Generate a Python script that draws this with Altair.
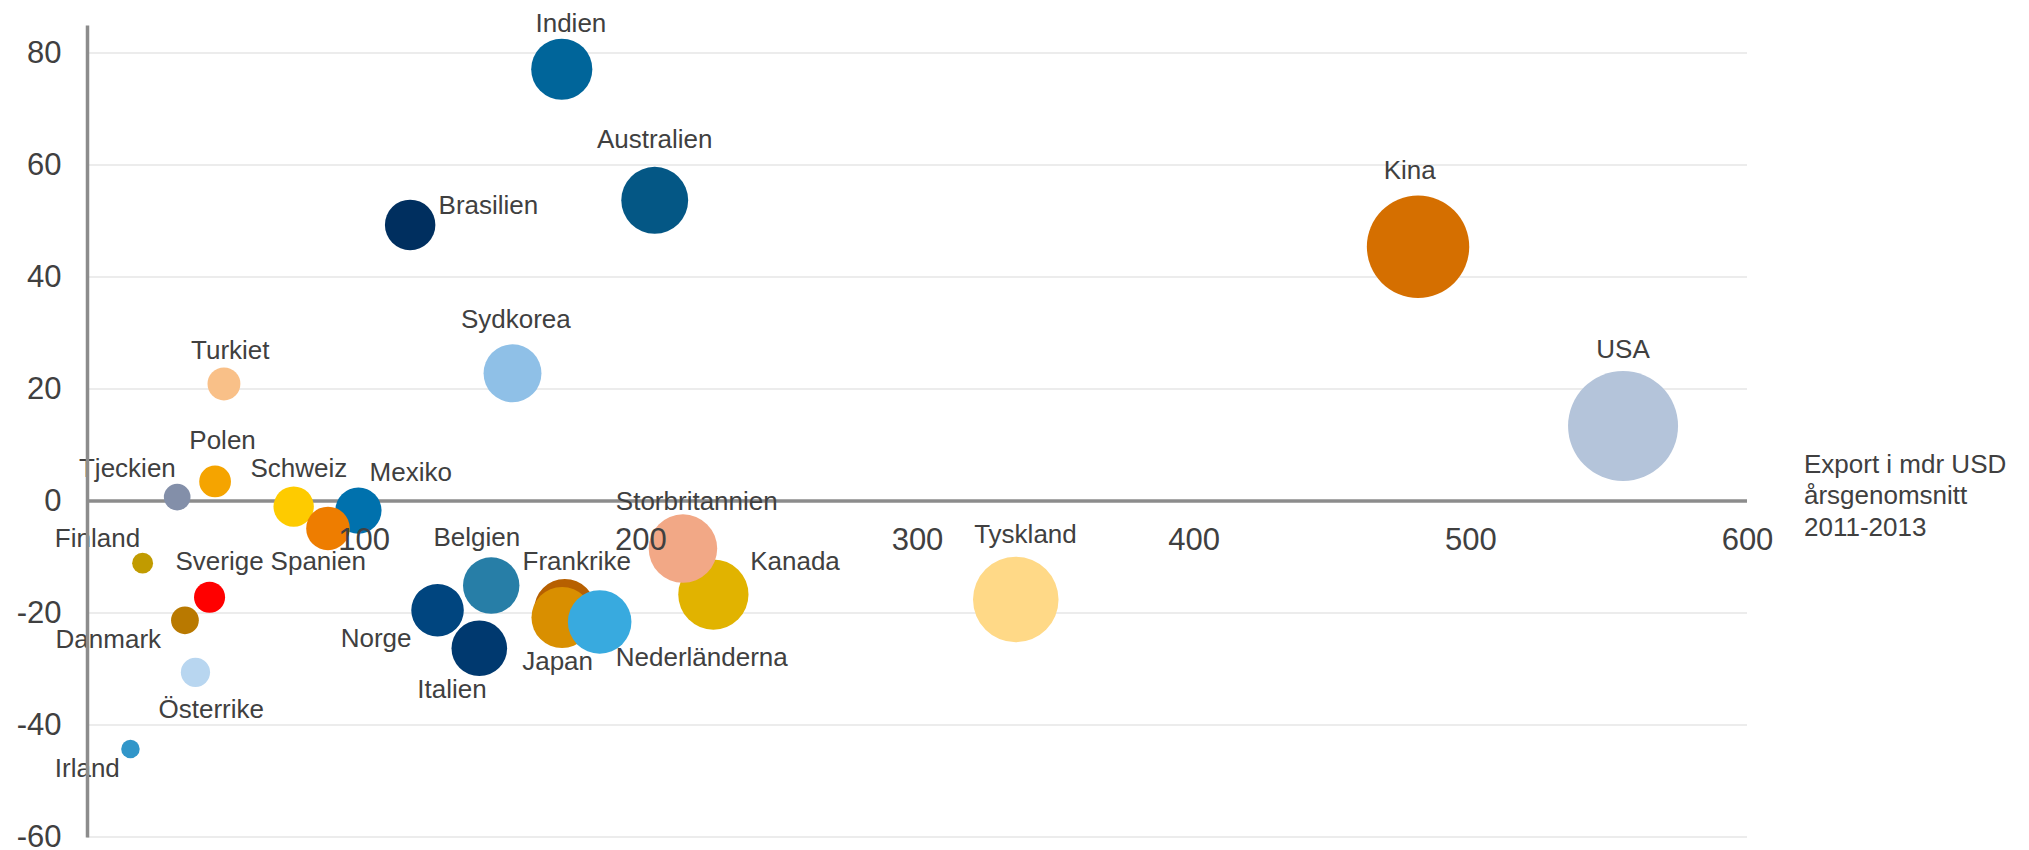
import altair as alt
import pandas as pd

# ---- data -------------------------------------------------------------
lander = ["Indien", "Australien", "Brasilien", "Kina", "USA", "Sydkorea",
          "Turkiet", "Polen", "Tjeckien", "Mexiko", "Schweiz", "Spanien",
          "Finland", "Sverige", "Danmark", "Österrike", "Irland", "Norge",
          "Belgien", "Italien", "Frankrike", "Japan", "Nederländerna",
          "Kanada", "Storbritannien", "Tyskland"]
# export, mdr USD (x) -- bubble area is the same quantity
export_mdr = [171.6, 205.2, 116.8, 481.1, 555.2, 153.8,
              49.5, 46.3, 32.6, 98.1, 74.7, 87.1,
              20.1, 44.3, 35.4, 39.2, 15.7, 126.7,
              146.1, 141.8, 172.7, 171.7, 185.3,
              226.4, 215.4, 335.7]
# change (y)
forandring = [77.1, 53.7, 49.3, 45.4, 13.4, 22.8,
              20.9, 3.5, 0.7, -1.7, -1.0, -4.9,
              -11.1, -17.2, -21.3, -30.6, -44.3, -19.5,
              -15.1, -26.3, -19.4, -20.8, -21.6,
              -16.7, -8.5, -17.6]
# label anchor points in data units
etikett_x = [174.9, 205.2, 145.1, 478.1, 555.2, 155.0,
             51.8, 49.0, 14.6, 117.0, 76.6, 83.6,
             3.8, 47.9, 7.7, 44.9, 0.1, 104.5,
             140.9, 131.9, 177.0, 170.1, 222.2,
             255.9, 220.4, 339.2]
etikett_y = [83.7, 63.1, 51.2, 57.5, 25.6, 30.9,
             25.3, 9.25, 4.2, 3.6, 4.2, -12.3,
             -8.15, -12.3, -26.2, -38.7, -49.3, -26.1,
             -8.0, -35.2, -12.4, -30.2, -29.5,
             -12.4, -1.6, -7.5]

x_ticks = [100, 200, 300, 400, 500, 600]
y_ticks = [-60, -40, -20, 0, 20, 40, 60, 80]
x_domain = [0, 600]
y_domain = [-60, 85]
axel_titel = ["Export i mdr USD", "årsgenomsnitt", "2011-2013"]
titel_x = [620.6]
titel_y = [5.07]

# ---- styles -----------------------------------------------------------
palett = ["#00659a", "#045785", "#002f5f", "#d56f00", "#b4c4da", "#8fc0e7",
          "#f9c088", "#f5a400", "#838fa9", "#0071ad", "#fecb00", "#ee7d00",
          "#c19b00", "#ff0000", "#b97900", "#b8d6f0", "#3196c9", "#00457f",
          "#277ea7", "#00396f", "#b76000", "#d98f00", "#38aadf",
          "#e1b300", "#f2a886", "#ffd987"]
FONT = "Liberation Sans"
TXT = "#404040"
AXIS = "#8c8c8c"
W, H = 1660, 812

df = pd.DataFrame({"land": lander, "export": export_mdr, "forandring": forandring,
                   "lx": etikett_x, "ly": etikett_y})

xs = alt.Scale(domain=x_domain, nice=False, zero=False)
ys = alt.Scale(domain=y_domain, nice=False, zero=False)

x_offset = -H * (0 - y_domain[0]) / (y_domain[1] - y_domain[0])

x_axis = alt.Axis(values=x_ticks, title=None, grid=False, domain=False,
                  ticks=False, labelFontSize=31, labelColor=TXT,
                  labelFont=FONT, labelPadding=24, labelFlush=False,
                  offset=x_offset, zindex=1)
y_axis = alt.Axis(values=y_ticks, title=None, grid=False,
                  domain=True, domainColor=AXIS, domainWidth=3.5,
                  ticks=False, labelFontSize=31, labelColor=TXT,
                  labelFont=FONT, labelPadding=26, labelFlush=False,
                  labelExpr="datum.value + ''", zindex=1)

# horizontal gridlines (behind everything)
grid = alt.Chart(pd.DataFrame({"g": [v for v in y_ticks if v != 0],
                               "x0": x_domain[0], "x1": x_domain[1]})).mark_rule(
    color="#ececec", strokeWidth=2
).encode(
    x=alt.X("x0:Q", scale=xs, axis=x_axis),
    x2="x1:Q",
    y=alt.Y("g:Q", scale=ys, axis=y_axis),
)

# x axis line at y = 0 (behind the bubbles)
axis_line = alt.Chart(pd.DataFrame({"x0": [x_domain[0]], "x1": [x_domain[1]], "y0": [0]})).mark_rule(
    color=AXIS, strokeWidth=3.5
).encode(
    x=alt.X("x0:Q", scale=xs, axis=x_axis),
    x2="x1:Q",
    y=alt.Y("y0:Q", scale=ys, axis=y_axis),
)

bubbles = alt.Chart(df).mark_circle(opacity=1, strokeWidth=0).encode(
    x=alt.X("export:Q", scale=xs, axis=x_axis),
    y=alt.Y("forandring:Q", scale=ys, axis=y_axis),
    size=alt.Size("export:Q", scale=alt.Scale(domain=[0, 600], range=[0, 13076]),
                  legend=None),
    color=alt.Color("land:N", scale=alt.Scale(domain=lander, range=palett),
                    legend=None),
    order=alt.Order("idx:Q"),
).transform_window(idx="row_number()")

labels = alt.Chart(df).mark_text(
    align="center", baseline="alphabetic", fontSize=26, font=FONT, color=TXT
).encode(
    x=alt.X("lx:Q", scale=xs, axis=x_axis),
    y=alt.Y("ly:Q", scale=ys, axis=y_axis),
    text="land:N",
)

title = alt.Chart(pd.DataFrame({"tx": titel_x, "ty": titel_y})).mark_text(
    align="left", baseline="alphabetic", fontSize=26, font=FONT, color=TXT,
    lineHeight=31.7
).encode(
    x=alt.X("tx:Q", scale=xs, axis=x_axis),
    y=alt.Y("ty:Q", scale=ys, axis=y_axis),
    text=alt.value(axel_titel),
)

chart = alt.layer(grid, axis_line, bubbles, labels, title).properties(
    width=W, height=H,
    background="white",
    autosize=alt.AutoSizeParams(type="none"),
    padding={"left": 79, "top": 17, "right": 265, "bottom": 12},
).configure_view(strokeWidth=0, stroke="transparent")

chart.save("out.html", embed_options={"renderer": "svg", "actions": False})
